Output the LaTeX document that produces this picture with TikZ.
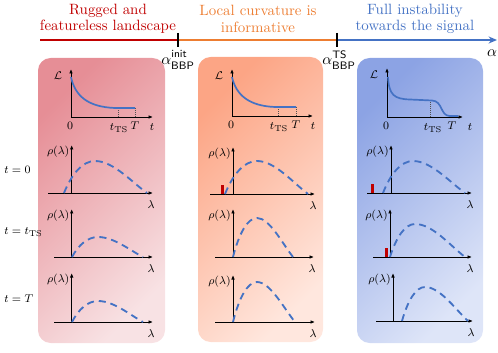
\documentclass[tikz,border=0pt]{standalone}
\usepackage{amsmath,amssymb}
\usetikzlibrary{arrows.meta}
\definecolor{rugred}{HTML}{C00000}
\definecolor{curvorange}{HTML}{ED7D31}
\definecolor{sigblue}{HTML}{4472C4}
\definecolor{pinktop}{HTML}{E68E96}
\definecolor{pinkbot}{HTML}{F8E2E4}
\definecolor{peachtop}{HTML}{FCA585}
\definecolor{peachbot}{HTML}{FFE7DE}
\definecolor{bluetop}{HTML}{8CA3E4}
\definecolor{bluebot}{HTML}{DEE5F8}
\definecolor{dotgray}{HTML}{505050}

\begin{document}
\begin{tikzpicture}[x=0.025cm, y=-0.025cm, >={Latex[length=3.2pt, width=2.6pt]},
  axis/.style={->, line width=0.7pt},
  loss/.style={sigblue, line width=1.2pt},
  spec/.style={sigblue, line width=1.3pt, dash pattern=on 5pt off 3.5pt},
  dotline/.style={dotgray, line width=0.5pt, densely dotted},
  title/.style={align=center, font=\fontsize{10.6}{11.6}\selectfont},
  bbp/.style={font=\fontsize{11}{12}\selectfont, inner sep=0pt},
  lbl/.style={font=\fontsize{8}{9.6}\selectfont, inner sep=0pt},
  ticklbl/.style={font=\fontsize{8.5}{10}\selectfont, inner sep=0pt},
  panel/.style={rounded corners=9pt}]

\useasboundingbox (0,0) rectangle (498,353);

% Titles
\node[title, text=rugred] (rugtitle) at (108,19) {Rugged and\\featureless landscape};
\node[title, text=curvorange] (curvtitle) at (258,19) {Local curvature is\\informative};
\node[title, text=sigblue] (sigtitle) at (415,19) {Full instability\\towards the signal};

% Timeline
\coordinate (tlstart) at (40,40);
\coordinate (bbpinit) at (178,40);
\coordinate (bbpts) at (337,40);
\coordinate (tlend) at (497,40);
\draw[rugred, line width=1.4pt] (tlstart) -- (bbpinit);
\draw[curvorange, line width=1.4pt] (bbpinit) -- (bbpts);
\draw[sigblue, line width=1.4pt, -{Stealth[length=6pt, width=5pt]}] (bbpts) -- (tlend);
\draw[line width=1pt] (178,33) -- (178,47);
\draw[line width=1pt] (337,33) -- (337,47);
\node[bbp] (ainit) at (178,60) {$\alpha^{\text{\sffamily\raisebox{0.8pt}{init}}}_{\text{\sffamily\raisebox{-0.6pt}{BBP}}}$};
\node[bbp] (ats) at (339,60) {$\alpha^{\text{\sffamily\raisebox{0.8pt}{TS}}}_{\text{\sffamily\raisebox{-0.6pt}{BBP}}}$};
\node[bbp] (alpha) at (492,53) {$\alpha$};

% Panels
\shade[panel, top color=pinktop, bottom color=pinkbot, shading angle=45] (38,58) rectangle (165,343);
\shade[panel, top color=peachtop, bottom color=peachbot, shading angle=45] (198,57) rectangle (323,342);
\shade[panel, top color=bluetop, bottom color=bluebot, shading angle=45] (357,58) rectangle (483,343);

% Loss axes
\foreach \n/\ox/\oy/\tp/\xe/\ts/\tT/\tx in {A/71/117/69/153/118/135/152, B/232/116/69/313/278/296/313, C/387/117/68/463/432/452/470} {
  \draw[axis] (\ox,\oy) -- (\xe,\oy);
  \draw[axis] (\ox,\oy) -- (\ox,\tp);
  \node[ticklbl] (zero\n) at (\ox-1,\oy+9) {$0$};
  \node[ticklbl] (tts\n) at (\ts+1,\oy+11) {$t_{\mathrm{TS}}$};
  \node[ticklbl] (tT\n) at (\tT,\oy+9) {$T$};
  \node[ticklbl] (t\n) at (\tx,\oy+10) {$t$};
  \node[ticklbl] (L\n) at (\ox-13,\tp+7) {$\mathcal{L}$};
}

% Loss curves
\draw[dotline] (118,117) -- (118,108);
\draw[dotline] (135,117) -- (135,108);
\draw[loss] (71,77) .. controls (75,96) and (88,107) .. (115,108) -- (135,108);
\draw[dotline] (278,116) -- (278,107);
\draw[dotline] (296,116) -- (296,107);
\draw[loss] (232,77) .. controls (236,95) and (249,106) .. (275,107) -- (296,107);
\draw[dotline] (430,117) -- (430,101);
\draw[loss] (388,77) .. controls (389,95) and (394,99) .. (410,99.5) -- (432,100.5)
  .. controls (443,101) and (440,116) .. (450,116) -- (458,116);

% Spectra
\foreach \n/\ax/\b/\tp/\xl/\xr/\xs/\xp/\yp/\xe in {
  A1/71.7/193/145/48/153/64/95/161/147,
  A2/71.7/257/209/54/153/72/98/237/143,
  A3/71.7/322/273/54/153/72/98/301/143,
  B1/233/194/147/210/315/225/257/161/308,
  B2/233/257/209/215/314/233/257/218/293,
  B3/233/322/275/215/315/233/257/282/295,
  C1/391/193/145/367/472/383/413/161/465,
  C2/390/257/209/373/472/390/415/224/465,
  C3/393/321/273/376/473/402/425/287/468} {
  \draw[axis] (\xl,\b) -- (\xr,\b);
  \draw[axis] (\ax,\b) -- (\ax,\tp);
  \node[lbl] (rho\n) at (\ax-13.5,\tp+7) {$\rho(\lambda)$};
  \node[lbl] (lam\n) at (\xr-2,\b+12) {$\lambda$};
  \draw[spec] (\xs,\b) .. controls ({\xs+0.25*(\xp-\xs)},{\b+0.6*(\yp-\b)}) and ({\xp-0.4*(\xp-\xs)},\yp) .. (\xp,\yp)
    .. controls ({\xp+0.35*(\xe-\xp)},\yp) and ({\xe-0.3*(\xe-\xp)},{\b+0.35*(\yp-\b)}) .. (\xe,\b);
}

% Outlier spikes
\fill[rugred] (220.5,194) rectangle (223.5,185);
\fill[rugred] (371.2,193) rectangle (374.2,184);
\fill[rugred] (384.5,257) rectangle (387.5,248);

% Row labels
\node[lbl, anchor=west] (row0) at (4,170) {$t=0$};
\node[lbl, anchor=west] (rowts) at (4,232) {$t=t_{\mathrm{TS}}$};
\node[lbl, anchor=west] (rowT) at (4,299) {$t=T$};

\end{tikzpicture}
\end{document}
